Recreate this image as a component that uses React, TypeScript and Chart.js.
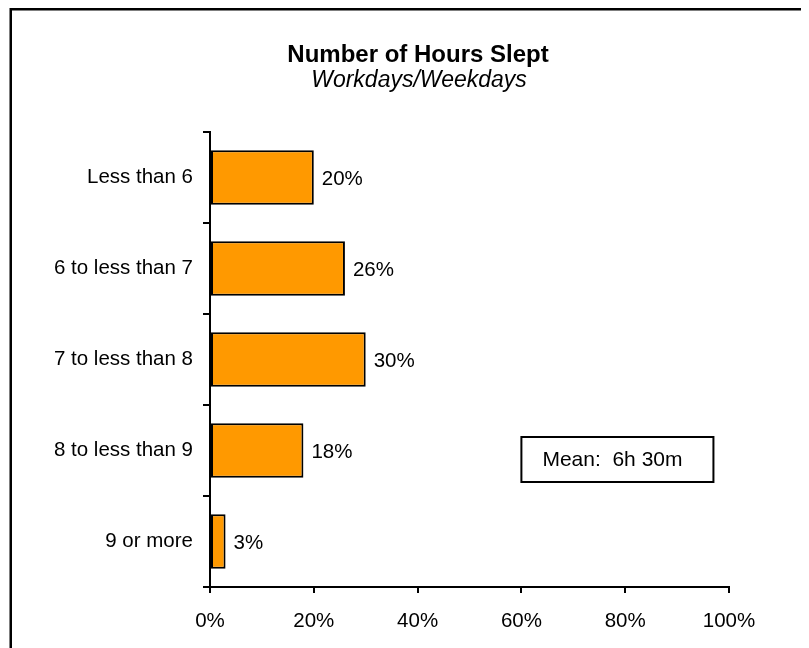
import React, { useEffect, useRef } from "react";
import { Chart, registerables } from "chart.js";

Chart.register(...registerables);

const categories = ["Less than 6", "6 to less than 7", "7 to less than 8", "8 to less than 9", "9 or more"];
const percentages = [20, 26, 30, 18, 3];
const xTickValues = [0, 20, 40, 60, 80, 100];
const chartTitle = "Number of Hours Slept";
const chartSubtitle = "Workdays/Weekdays";
const meanText = "Mean:  6h 30m";

const FONT = '"Liberation Sans", Arial, Helvetica, sans-serif';
const BAR_COLOR = "#FF9900";

export default function App() {
  const ref = useRef<HTMLCanvasElement>(null);

  useEffect(() => {
    const canvas = ref.current;
    if (!canvas) return;

    const decor = {
      id: "decor",
      beforeDraw(chart: any) {
        const ctx = chart.ctx;
        ctx.save();
        ctx.fillStyle = "#ffffff";
        ctx.fillRect(0, 0, chart.width, chart.height);
        ctx.strokeStyle = "#000";
        ctx.lineWidth = 2.5;
        ctx.beginPath();
        ctx.moveTo(2.75, chart.height);
        ctx.lineTo(2.75, 1.25);
        ctx.lineTo(chart.width, 1.25);
        ctx.stroke();
        ctx.fillStyle = "#000";
        ctx.textAlign = "center";
        ctx.textBaseline = "alphabetic";
        ctx.font = `bold 24px ${FONT}`;
        ctx.fillText(chartTitle, 410, 54);
        ctx.font = `italic 23px ${FONT}`;
        ctx.fillText(chartSubtitle, 411, 79);
        ctx.restore();
      },
      afterDatasetsDraw(chart: any) {
        const ctx = chart.ctx;
        const meta = chart.getDatasetMeta(0);
        ctx.save();
        ctx.fillStyle = "#000";
        ctx.font = `20.5px ${FONT}`;
        ctx.textAlign = "left";
        ctx.textBaseline = "middle";
        meta.data.forEach((bar: any, i: number) => {
          ctx.fillText(percentages[i] + "%", bar.x + 8, bar.y + 2);
        });
        ctx.restore();
      },
      afterDraw(chart: any) {
        const ctx = chart.ctx;
        const xs = chart.scales.x;
        const ys = chart.scales.y;
        const left = xs.getPixelForValue(60);
        const right = xs.getPixelForValue(97);
        const cy = ys.getPixelForValue(3) + 9;
        const h = 45;
        ctx.save();
        ctx.fillStyle = "#fff";
        ctx.fillRect(left, cy - h / 2, right - left, h);
        ctx.strokeStyle = "#000";
        ctx.lineWidth = 2;
        ctx.strokeRect(left, cy - h / 2, right - left, h);
        ctx.fillStyle = "#000";
        ctx.font = `21px ${FONT}`;
        ctx.textAlign = "left";
        ctx.textBaseline = "middle";
        ctx.fillText(meanText, left + 21, cy + 1);
        ctx.restore();
      },
    };

    const chart = new Chart(canvas, {
      type: "bar",
      data: {
        labels: categories,
        datasets: [
          {
            data: percentages,
            backgroundColor: BAR_COLOR,
            borderColor: "#000",
            borderWidth: 2,
            borderSkipped: false,
            categoryPercentage: 1,
            barPercentage: 0.6,
          },
        ],
      },
      options: {
        indexAxis: "y",
        animation: false,
        responsive: false,
        maintainAspectRatio: false,
        layout: { padding: { top: 124, right: 80, left: 0, bottom: 0 } },
        plugins: {
          legend: { display: false },
          title: { display: false },
          tooltip: { enabled: false },
        },
        scales: {
          x: {
            type: "linear",
            min: 0,
            max: 100,
            afterBuildTicks: (s: any) => {
              s.ticks = xTickValues.map((v) => ({ value: v }));
            },
            afterFit: (s: any) => {
              s.height = 61;
            },
            ticks: {
              color: "#000",
              font: { family: FONT, size: 20.5 },
              padding: 16,
              callback: (v: any) => v + "%",
              maxRotation: 0,
            },
            grid: {
              drawOnChartArea: false,
              drawTicks: true,
              tickLength: 6,
              color: "#000",
              lineWidth: 2,
            },
            border: { display: true, color: "#000", width: 2 },
          },
          y: {
            type: "category",
            afterFit: (s: any) => {
              s.width = 202;
            },
            ticks: {
              color: "#000",
              font: { family: FONT, size: 20.5 },
              padding: 10,
            },
            grid: {
              drawOnChartArea: false,
              drawTicks: true,
              tickLength: 7,
              color: "#000",
              lineWidth: 2,
              offset: true,
            },
            border: { display: true, color: "#000", width: 2 },
          },
        },
      },
      plugins: [decor],
    });

    return () => chart.destroy();
  }, []);

  return (
    <div style={{ width: 801, height: 640 }}>
      <canvas ref={ref} width={801} height={640} style={{ display: "block", width: 801, height: 640 }} />
    </div>
  );
}
